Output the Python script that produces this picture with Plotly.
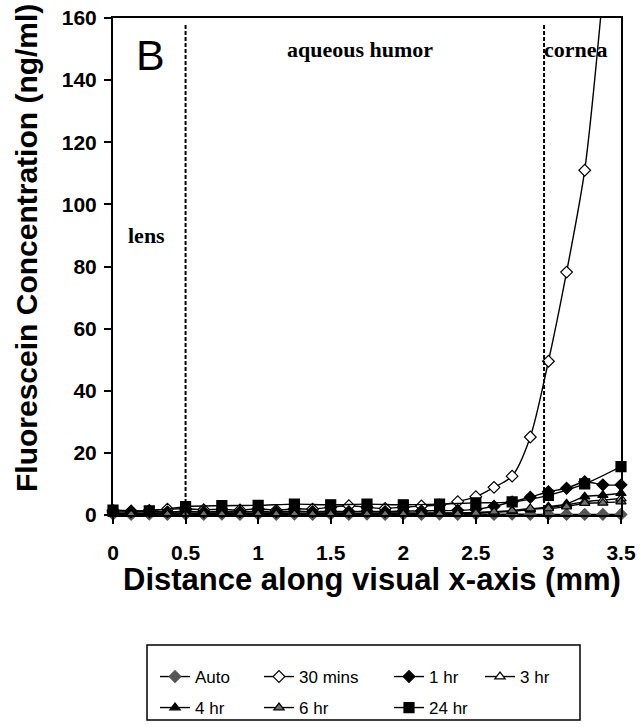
import plotly.graph_objects as go

# ---- data ----
x_fine = [i * 0.125 for i in range(29)]          # 0 .. 3.5 step 0.125
x_24 = [i * 0.25 for i in range(15)]             # 0 .. 3.5 step 0.25
x_30 = [i * 0.125 for i in range(28)]            # 0 .. 3.375

auto = [0.3, 0.2, 0.3, 0.2, 0.3, 0.2, 0.3, 0.2, 0.3, 0.2, 0.3, 0.2, 0.3, 0.2, 0.3,
        0.2, 0.3, 0.2, 0.3, 0.2, 0.3, 0.2, 0.3, 0.2, 0.2, 0.2, 0.2, 0.2, 0.2]
mins30 = [1.5, 1.3, 1.5, 1.9, 2.0, 1.7, 1.8, 1.6, 2.0, 1.5, 2.0, 1.9, 2.5, 3.0,
          2.5, 2.1, 2.5, 2.9, 3.2, 4.3, 5.9, 8.9, 12.5, 25.1, 49.5, 78.2, 111.0, 168.0]
hr1 = [1.0, 1.0, 1.1, 1.0, 1.2, 1.0, 1.1, 1.0, 1.2, 1.0, 1.2, 1.1, 1.2, 1.1, 1.2,
       1.1, 1.3, 1.3, 1.4, 1.5, 1.8, 2.8, 4.2, 5.7, 7.5, 8.6, 10.7, 9.7, 9.7]
hr3 = [0.6, 0.6, 0.6, 0.7, 0.6, 0.6, 0.7, 0.6, 0.6, 0.7, 0.6, 0.6, 0.7, 0.6, 0.6,
       0.7, 0.6, 0.6, 0.7, 0.7, 0.8, 1.0, 1.3, 1.7, 2.4, 3.2, 4.3, 4.8, 5.3]
hr4 = [0.5, 0.5, 0.5, 0.5, 0.6, 0.5, 0.5, 0.5, 0.6, 0.5, 0.5, 0.5, 0.6, 0.5, 0.5,
       0.5, 0.6, 0.5, 0.6, 0.6, 0.7, 0.9, 1.2, 1.8, 2.7, 3.6, 5.9, 6.4, 7.0]
hr6 = [0.3, 0.3, 0.3, 0.3, 0.3, 0.3, 0.3, 0.3, 0.3, 0.3, 0.3, 0.3, 0.3, 0.3, 0.3,
       0.3, 0.3, 0.3, 0.3, 0.4, 0.6, 1.0, 1.4, 2.1, 2.1, 2.7, 3.8, 3.9, 4.3]
hr24 = [1.6, 1.3, 2.7, 3.0, 3.1, 3.5, 3.3, 3.5, 3.3, 3.5, 3.9, 4.2, 6.3, 10.0, 15.6]

boundaries = [0.5, 2.97]
region_labels = ["lens", "aqueous humor", "cornea"]
region_x = [0.23, 1.70, 3.19]
region_y = [90, 150, 150]

y_ticks = list(range(0, 161, 20))
x_ticks = [0, 0.5, 1, 1.5, 2, 2.5, 3, 3.5]
x_ticklabels = ["0", "0.5", "1", "1.5", "2", "2.5", "3", "3.5"]

# ---- figure ----
W, H = 641, 727
L, R, T, B = 113, 621, 18, 515

series = [
    ("Auto", x_fine, auto, "diamond", "#555555", "#555555"),
    ("30 mins", x_30, mins30, "diamond", "white", "black"),
    ("1 hr", x_fine, hr1, "diamond", "black", "black"),
    ("3 hr", x_fine, hr3, "triangle-up", "white", "black"),
    ("4 hr", x_fine, hr4, "triangle-up", "black", "black"),
    ("6 hr", x_fine, hr6, "triangle-up", "#707070", "black"),
    ("24 hr", x_24, hr24, "square", "black", "black"),
]

# legend item positions (pixel) : column x, row y
leg_pos = {
    "Auto": (155, 677), "30 mins": (259, 677), "1 hr": (389, 677), "3 hr": (480, 677),
    "4 hr": (155, 708), "6 hr": (259, 708), "24 hr": (389, 708),
}

def px2paper_x(px):
    return (px - L) / (R - L)

def px2paper_y(py):
    return (B - py) / (B - T)

fig = go.Figure()
layout_legends = {}
for i, (name, xs, ys, sym, fill, edge) in enumerate(series):
    lname = "legend" if i == 0 else f"legend{i+1}"
    fig.add_trace(go.Scatter(
        x=xs, y=ys, name=name, mode="lines+markers",
        line=dict(color="black", width=1.4, shape="spline", smoothing=0.8),
        marker=dict(symbol=sym, size=10 if sym == "square" else 9, color=fill,
                    line=dict(color=edge, width=1.2)),
        cliponaxis=False, legend=lname, showlegend=True,
    ))
    px, py = leg_pos[name]
    layout_legends[lname] = dict(
        x=px2paper_x(px), y=px2paper_y(py),
        xanchor="left", yanchor="middle", bgcolor="rgba(0,0,0,0)",
        font=dict(family="Liberation Sans, Arial", size=17, color="black"),
    )

fig.update_layout(**layout_legends)

shapes = []
for bx in boundaries:
    shapes.append(dict(type="line", xref="x", yref="y", x0=bx, x1=bx, y0=0, y1=158,
                       line=dict(color="black", width=2, dash="4px,2px")))
# legend frame
shapes.append(dict(type="rect", xref="paper", yref="paper",
                   x0=px2paper_x(147), x1=px2paper_x(580),
                   y0=px2paper_y(720), y1=px2paper_y(645),
                   line=dict(color="black", width=1.5), fillcolor="rgba(0,0,0,0)"))

annotations = []
annotations.append(dict(x=0.26, y=148, xref="x", yref="y", text="B", showarrow=False,
                        xanchor="center", yanchor="middle",
                        font=dict(family="Liberation Sans, Arial", size=43, color="black")))
for lab, lx, ly in zip(region_labels, region_x, region_y):
    annotations.append(dict(x=lx, y=ly, xref="x", yref="y", text=lab, showarrow=False,
                            xanchor="center", yanchor="middle",
                            font=dict(family="Liberation Serif, Times New Roman", size=22,
                                      color="black", weight="bold")))
annotations.append(dict(x=px2paper_x(372), y=px2paper_y(579), xref="paper", yref="paper",
                        text="Distance along visual x-axis (mm)", showarrow=False,
                        xanchor="center", yanchor="middle",
                        font=dict(family="Liberation Sans, Arial", size=31, color="black",
                                  weight="bold")))
annotations.append(dict(x=px2paper_x(26), y=px2paper_y(248), xref="paper", yref="paper",
                        text="Fluorescein Concentration (ng/ml)", showarrow=False, textangle=-90,
                        xanchor="center", yanchor="middle",
                        font=dict(family="Liberation Sans, Arial", size=30, color="black",
                                  weight="bold")))

fig.update_layout(
    width=W, height=H, showlegend=True,
    margin=dict(l=L, r=W - R, t=T, b=H - B, pad=0, autoexpand=False),
    paper_bgcolor="white", plot_bgcolor="white",
    shapes=shapes, annotations=annotations,
    xaxis=dict(range=[0, 3.5], tickvals=x_ticks, ticktext=x_ticklabels, showgrid=False,
               zeroline=False, showline=True, linecolor="black", linewidth=2, mirror=True,
               ticks="outside", ticklen=7, tickwidth=1.5, tickcolor="black",
               ticklabelstandoff=11,
               tickfont=dict(family="Liberation Sans, Arial", size=21, color="black",
                             weight="bold")),
    yaxis=dict(range=[0, 160], tickvals=y_ticks, showgrid=False, zeroline=False,
               showline=True, linecolor="black", linewidth=2, mirror=True,
               ticks="outside", ticklen=7, tickwidth=1.5, tickcolor="black",
               ticklabelstandoff=3,
               tickfont=dict(family="Liberation Sans, Arial", size=21, color="black",
                             weight="bold")),
)

fig.write_html("out.html")
